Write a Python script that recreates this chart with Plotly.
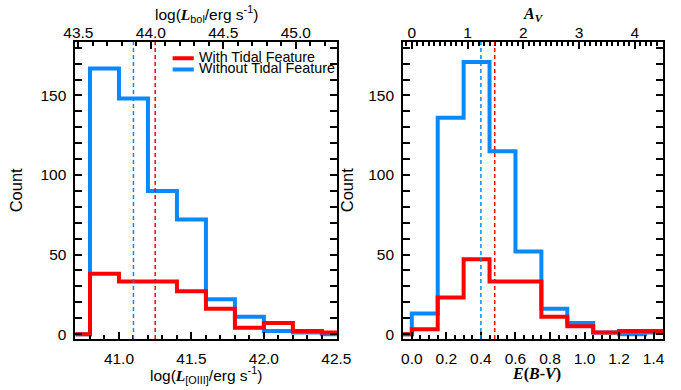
import plotly.graph_objects as go

W, H = 681, 390

# ---------------- data ----------------
oiii_edges = [40.6, 40.8, 41.0, 41.2, 41.4, 41.6, 41.8, 42.0, 42.2, 42.4, 42.6]
oiii_with = [0, 38, 33, 33, 27, 16, 4, 7, 2, 1]
oiii_without = [0, 167, 148, 90, 72, 22, 11, 2, 1, 0]

ebv_edges = [-0.15, 0.0, 0.15, 0.30, 0.45, 0.60, 0.75, 0.90, 1.05, 1.20, 1.35, 1.50]
ebv_with = [0, 3, 23, 47, 33, 33, 11, 5, 1, 2, 2]
ebv_without = [0, 13, 136, 171, 115, 52, 16, 7, 1, 0, 1]

median_oiii_with = 41.25
median_oiii_without = 41.10
median_ebv_with = 0.48
median_ebv_without = 0.40

bol_offset = 2.78   # log L_bol = log L[OIII] + offset
av_factor = 3.1     # A_V = 3.1 E(B-V)

RED = "#FF0000"
BLUE = "#0A88FF"
FONT = "Liberation Sans, Arial, Helvetica, sans-serif"
SERIF = "Liberation Serif, Times New Roman, serif"

def px(x):
    return x / W

def py(y):
    return 1 - y / H

X1 = [px(66), px(338)]
X2 = [px(406.7), px(677)]
YD = [py(341.7), py(42.3)]

xr1 = [40.7, 42.505]
xr2 = [-0.05, 1.455]
yr = [-3.1, 183.6]

fig = go.Figure()

def steps(edges, counts, xa, ya, color):
    fig.add_trace(go.Scatter(
        x=edges, y=list(counts) + [counts[-1]], mode="lines",
        line=dict(color=color, width=4, shape="hv"),
        xaxis=xa, yaxis=ya, showlegend=False, hoverinfo="skip"))

steps(oiii_edges, oiii_without, "x", "y", BLUE)
steps(oiii_edges, oiii_with, "x", "y", RED)
steps(ebv_edges, ebv_without, "x2", "y2", BLUE)
steps(ebv_edges, ebv_with, "x2", "y2", RED)

# dummy traces so top axes render
fig.add_trace(go.Scatter(x=[None], y=[None], xaxis="x3", yaxis="y", showlegend=False))
fig.add_trace(go.Scatter(x=[None], y=[None], xaxis="x4", yaxis="y2", showlegend=False))

for xref, yref, m, c in [("x", "y", median_oiii_without, BLUE), ("x", "y", median_oiii_with, RED),
                         ("x2", "y2", median_ebv_without, BLUE), ("x2", "y2", median_ebv_with, RED)]:
    fig.add_shape(type="line", xref=xref, yref=yref + " domain", x0=m, x1=m, y0=0, y1=1,
                  line=dict(color=c, width=1.5, dash="4px,3px"), layer="above")

axcommon = dict(showgrid=False, zeroline=False, linecolor="black", linewidth=2,
                ticks="inside", tickcolor="black", tickwidth=1.5,
                tickfont=dict(family=FONT, size=15.5, color="black"))
minor_common = dict(ticks="inside", tickcolor="black", tickwidth=1.5, ticklen=4)

fig.update_layout(
    width=W, height=H, margin=dict(l=0, r=0, t=0, b=0),
    paper_bgcolor="white", plot_bgcolor="white", showlegend=False,
    font=dict(family=FONT, color="black"),
    xaxis=dict(domain=X1, anchor="y", range=xr1, tickmode="linear", tick0=41.0, dtick=0.5,
               tickformat=".1f", ticklen=7, mirror=True,
               minor=dict(dtick=0.1, tick0=41.0, **minor_common),
               ticklabelstandoff=4, **axcommon),
    xaxis3=dict(overlaying="x", anchor="y", side="top",
                range=[xr1[0] + bol_offset, xr1[1] + bol_offset], tickmode="linear", tick0=43.5, dtick=0.5,
                tickformat=".1f", ticklen=7,
                minor=dict(dtick=0.1, tick0=43.5, **minor_common),
                ticklabelstandoff=-4, **axcommon),
    yaxis=dict(domain=YD, anchor="x", range=yr, tickmode="linear", tick0=0, dtick=50, ticklen=7,
               mirror="allticks",
               minor=dict(dtick=10, **minor_common),
               ticklabelstandoff=4, **axcommon),
    xaxis2=dict(domain=X2, anchor="y2", range=xr2, tickmode="linear", tick0=0, dtick=0.2,
                tickformat=".1f", ticklen=7, mirror=True,
                minor=dict(dtick=0.05, tick0=0, **minor_common),
                ticklabelstandoff=4, **axcommon),
    xaxis4=dict(overlaying="x2", anchor="y2", side="top",
                range=[xr2[0] * av_factor, xr2[1] * av_factor], tickmode="linear", tick0=0, dtick=1,
                tickformat="d", ticklen=7,
                minor=dict(dtick=0.1, tick0=0, **minor_common),
                ticklabelstandoff=-4, **axcommon),
    yaxis2=dict(domain=YD, anchor="x2", range=yr, tickmode="linear", tick0=0, dtick=50, ticklen=7,
                mirror="allticks",
                minor=dict(dtick=10, **minor_common),
                ticklabelstandoff=4, **axcommon),
)

Lser = "<span style=\"font-family:'Liberation Serif'\"><b><i>L</i></b></span>"
ann = [
    dict(text="log(" + Lser + "<sub>bol</sub>/erg s<sup>-1</sup>)", x=px(202), y=py(14), size=15.5, font=FONT),
    dict(text="log(" + Lser + "<sub>[OIII]</sub>/erg s<sup>-1</sup>)", x=px(202), y=py(378), size=15.5, font=FONT),
    dict(text="<b><i>A<sub>V</sub></i></b>", x=px(542), y=py(15), size=16, font=SERIF),
    dict(text="<b><i>E</i>(<i>B</i>-<i>V</i>)</b>", x=px(545), y=py(377), size=16, font=SERIF),
]
for a in ann:
    fig.add_annotation(text=a["text"], x=a["x"], y=a["y"], xref="paper", yref="paper",
                       showarrow=False, xanchor="center", yanchor="middle",
                       font=dict(family=a["font"], size=a["size"], color="black"))
for xc in [4, 348]:
    fig.add_annotation(text="Count", x=px(xc), y=py(192), xref="paper", yref="paper",
                       showarrow=False, textangle=-90, xanchor="center", yanchor="middle",
                       font=dict(family=FONT, size=16.5, color="black"))

# legend (drawn manually, IDL style)
leg = [("With Tidal Feature", RED, 58.7), ("Without Tidal Feature", BLUE, 70)]
for label, col, yy in leg:
    fig.add_shape(type="line", xref="paper", yref="paper", x0=px(167), x1=px(189), y0=py(yy), y1=py(yy),
                  line=dict(color=col, width=4))
    fig.add_annotation(text=label, x=px(192), y=py(yy - 1), xref="paper", yref="paper",
                       showarrow=False, xanchor="left", yanchor="middle",
                       font=dict(family=FONT, size=14.3, color="black"))

fig.write_html("out.html")
